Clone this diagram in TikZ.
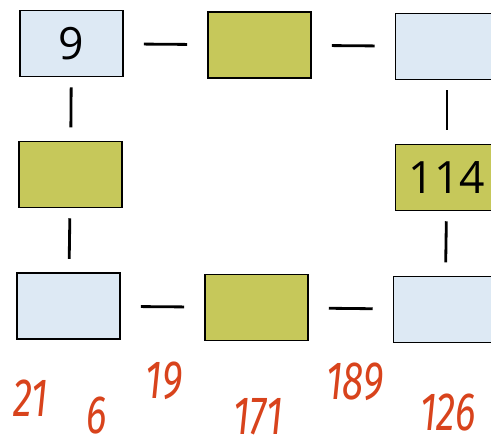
\documentclass[tikz,border=0pt]{standalone}
\usepackage{fontspec}
\usepackage{xcolor}
\setsansfont{Open Sans}
\newfontfamily\handfont{Fira Sans}
\definecolor{boxblue}{HTML}{DDE9F4}
\definecolor{boxgreen}{HTML}{C6C85A}
\definecolor{handred}{HTML}{D8431C}

\begin{document}
\begin{tikzpicture}[x=0.03cm, y=-0.03cm,
    box/.style={draw, line width=1.3pt, minimum width=3.09cm, minimum height=1.98cm, inner sep=0pt, font=\sffamily\fontsize{38}{38}\selectfont},
    blue/.style={box, fill=boxblue},
    green/.style={box, fill=boxgreen},
    hcon/.style={line width=2.4pt, shorten <=0.6cm, shorten >=0.6cm},
    vcon/.style={line width=2.4pt, shorten <=0.3cm, shorten >=0.4cm},
    hand/.style={text=handred, font=\handfont\itshape\fontsize{46}{46}\selectfont, xscale=0.72, transform shape, inner sep=0pt}
]
    \useasboundingbox (0,0) rectangle (491,448);
    \node[blue]  (b1) at (71.5,43.5)  {9};
    \node[green] (b2) at (259.5,45)   {};
    \node[blue]  (b3) at (447,46.5)   {};
    \node[green] (m1) at (70.5,174.5) {};
    \node[green] (m3) at (447,177.5)  {114};
    \node[blue]  (c1) at (68.5,306)   {};
    \node[green] (c2) at (256.5,307.5) {};
    \node[blue]  (c3) at (445,309.5)  {};
    \draw[hcon] (b1) -- (b2);
    \draw[hcon] (b2) -- (b3);
    \draw[hcon] (c1) -- (c2);
    \draw[hcon] (c2) -- (c3);
    \draw[vcon] (b1) -- (m1);
    \draw[vcon] (m1) -- (c1);
    \draw[vcon] (b3) -- (m3);
    \draw[vcon] (m3) -- (c3);
    % handwritten answers
    \node[hand] (n21)  at (31,398)  {21};
    \node[hand] (n6)   at (97,416)  {6};
    \node[hand] (n19)  at (164,381) {19};
    \node[hand] (n171) at (258,417) {171};
    \node[hand] (n189) at (355,382) {189};
    \node[hand] (n126) at (448,413) {126};
\end{tikzpicture}
\end{document}
